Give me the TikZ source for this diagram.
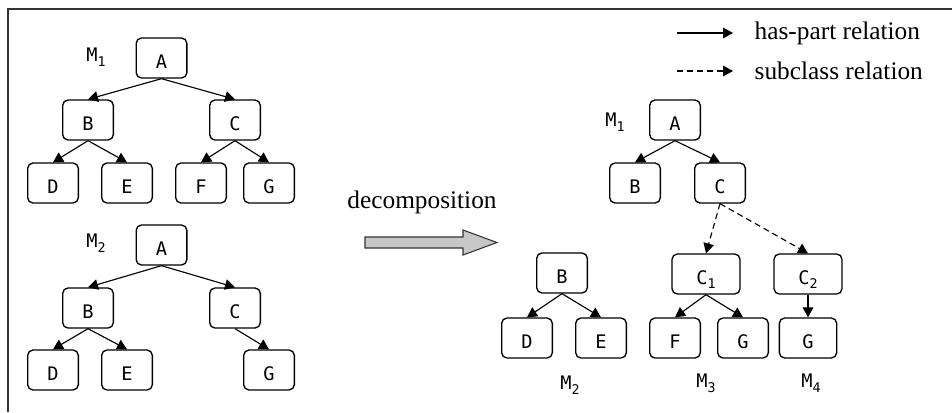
\documentclass[tikz,border=0pt]{standalone}
\usepackage{fontspec}
\setmainfont{Liberation Serif}
\setmonofont{DejaVu Sans Mono}
\usetikzlibrary{arrows.meta}

\newcommand{\idx}[1]{\raisebox{-3.5pt}{\fontsize{10}{12}\selectfont #1}}

\tikzset{
  cls/.style={draw, rounded corners=4pt, line width=1pt, minimum width=38pt, minimum height=30pt,
    inner sep=1pt, text height=15pt, text depth=0pt, font=\fontsize{14}{16}\ttfamily},
  widecls/.style={cls, minimum width=51pt},
  lbl/.style={font=\fontsize{14}{16}\ttfamily},
  part/.style={-{Triangle[length=7.5pt,width=8pt]}, line width=0.85pt},
  sub/.style={part, dash pattern=on 4.5pt off 3pt},
  txt/.style={font=\fontsize{19}{22}\selectfont}
}

\begin{document}
\begin{tikzpicture}[x=0.75pt,y=-0.75pt]
\useasboundingbox (0,0) rectangle (952,412);

\draw[line width=1.4pt,black!80] (8,412) -- (8,9) -- (952,9);%frame

%M1
\node[lbl] (m1) at (96,57) {M\idx{1}};
\node[cls] (a1) at (161.5,58) {A};
\node[cls] (b1) at (88,120) {B};
\node[cls] (c1) at (235,120) {C};
\node[cls] (d1) at (53,183) {D};
\node[cls] (e1) at (127,183) {E};
\node[cls] (f1) at (201,183) {F};
\node[cls] (g1) at (269,183) {G};
\draw[part] (a1.south) -- (b1.north);
\draw[part] (a1.south) -- (c1.north);
\draw[part] (b1.south) -- (d1.north);
\draw[part] (b1.south) -- (e1.north);
\draw[part] (c1.south) -- (f1.north);
\draw[part] (c1.south) -- (g1.north);

%M2
\node[lbl] (m2) at (96,243) {M\idx{2}};
\node[cls] (a2) at (161.5,245) {A};
\node[cls] (b2) at (88,308) {B};
\node[cls] (c2) at (235,308) {C};
\node[cls] (d2) at (53,370) {D};
\node[cls] (e2) at (127,370) {E};
\node[cls] (g2) at (269,370) {G};
\draw[part] (a2.south) -- (b2.north);
\draw[part] (a2.south) -- (c2.north);
\draw[part] (b2.south) -- (d2.north);
\draw[part] (b2.south) -- (e2.north);
\draw[part] (c2.south) -- (g2.north);

%decomposition
\node[txt] (dec) at (422,202) {decomposition};
\draw[line width=0.8pt,black!80,fill=black!22] (365,237) -- (463,237) -- (463,230) -- (497,242.5)
  -- (463,255) -- (463,248) -- (365,248) -- cycle;

%legend
\coordinate (l1s) at (677,33);
\coordinate (l1e) at (733,33);
\coordinate (l2s) at (677,71);
\coordinate (l2e) at (733,71);
\draw[part] (l1s) -- (l1e);
\draw[sub] (l2s) -- (l2e);
\node[txt,anchor=west] (t1) at (750,33) {has-part relation};
\node[txt,anchor=west] (t2) at (750,71) {subclass relation};

%M1 after
\node[lbl] (rm1) at (615,122) {M\idx{1}};
\node[cls] (ra) at (675,120) {A};
\node[cls] (rb) at (635,183) {B};
\node[cls] (rc) at (720,183) {C};
\draw[part] (ra.south) -- (rb.north);
\draw[part] (ra.south) -- (rc.north);

%M2 after
\node[cls] (rbb) at (562,273) {B};
\node[cls] (rd) at (527,338) {D};
\node[cls] (re) at (601,338) {E};
\node[lbl] (rm2) at (570,385) {M\idx{2}};
\draw[part] (rbb.south) -- (rd.north);
\draw[part] (rbb.south) -- (re.north);

%M3
\node[widecls] (rc1) at (706,274) {C\idx{1}};
\node[cls] (rf) at (675,338) {F};
\node[cls] (rg) at (743,338) {G};
\node[lbl] (rm3) at (706,383) {M\idx{3}};
\draw[part] (rc1.south) -- (rf.north);
\draw[part] (rc1.south) -- (rg.north);

%M4
\node[widecls] (rc2) at (808,274) {C\idx{2}};
\node[cls,minimum width=43pt] (rg2) at (808,338) {G};
\node[lbl] (rm4) at (811,383) {M\idx{4}};
\draw[part] (rc2.south) -- (rg2.north);

%subclass
\draw[sub] (rc.south) -- (rc1.north);
\draw[sub] (rc.south) -- (rc2.north);
\end{tikzpicture}
\end{document}
